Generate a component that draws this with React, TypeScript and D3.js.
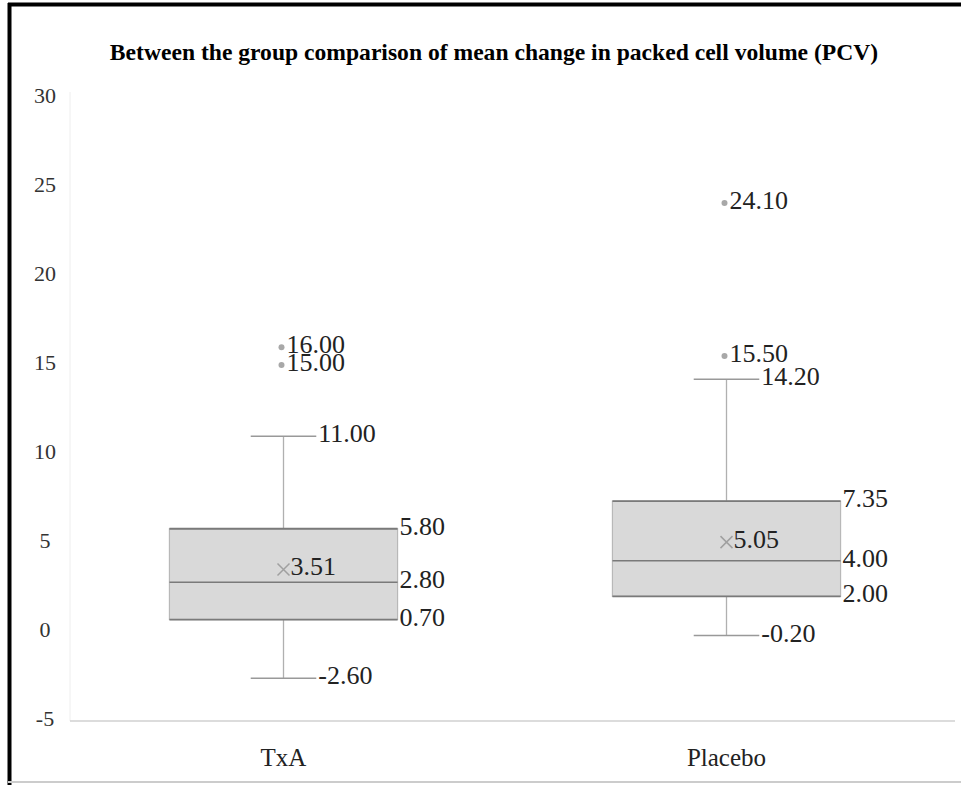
import React from "react";
import * as d3 from "d3";

// Box-plot summary values for each group
const categories = ["TxA", "Placebo"];
const mins = [-2.6, -0.2];
const q1s = [0.7, 2.0];
const medians = [2.8, 4.0];
const q3s = [5.8, 7.35];
const maxs = [11.0, 14.2];
const means = [3.51, 5.05];
const outliers = [
  [16.0, 15.0],
  [24.1, 15.5],
];
const yTicks = [-5, 0, 5, 10, 15, 20, 25, 30];
const title = "Between the group comparison of mean change in packed cell volume (PCV)";

const W = 961;
const H = 785;
const SERIF = "'Liberation Serif', 'Times New Roman', serif";

export default function App() {
  const y = d3.scaleLinear().domain([-5, 30]).range([721, 98]);
  const x = d3.scaleBand().domain(categories).range([62, 948]).padding(0);
  const bw = x.bandwidth();
  const boxW = bw * 0.515;
  const capW = bw * 0.148;

  const label = (tx: number, v: number, key: string) => (
    <text
      key={key}
      x={tx}
      y={y(v)}
      dominantBaseline="middle"
      fontFamily={SERIF}
      fontSize={26}
      fill="#222"
    >
      {v.toFixed(2)}
    </text>
  );

  return (
    <svg
      width={W}
      height={H}
      style={{ position: "absolute", left: 0, top: 0, background: "#fff" }}
    >
      {/* frame */}
      <rect x={0} y={0} width={W} height={H} fill="#fff" />
      <line x1={8} x2={W} y1={4.5} y2={4.5} stroke="#000" strokeWidth={4} />
      <line x1={9.5} x2={9.5} y1={3} y2={H} stroke="#000" strokeWidth={4} />
      <line x1={8} x2={W} y1={782} y2={782} stroke="#ccc" strokeWidth={2} />

      <text
        x={494}
        y={60}
        textAnchor="middle"
        fontFamily={SERIF}
        fontWeight="bold"
        fontSize={23.6}
        fill="#000"
      >
        {title}
      </text>

      {/* plot area edges */}
      <line x1={70} x2={70} y1={92} y2={y(-5)} stroke="#eee" strokeWidth={1} />
      <line x1={70} x2={955} y1={y(-5)} y2={y(-5)} stroke="#d0d0d0" strokeWidth={1.5} />

      {/* y tick labels */}
      {yTicks.map((t) => (
        <text
          key={t}
          x={45}
          y={y(t)}
          textAnchor="middle"
          dominantBaseline="middle"
          fontFamily={SERIF}
          fontSize={22}
          fill="#333"
        >
          {t}
        </text>
      ))}

      {/* category labels */}
      {categories.map((c) => (
        <text
          key={c}
          x={(x(c) as number) + bw / 2}
          y={760}
          textAnchor="middle"
          dominantBaseline="middle"
          fontFamily={SERIF}
          fontSize={25}
          fill="#222"
        >
          {c}
        </text>
      ))}

      {categories.map((c, i) => {
        const cx = (x(c) as number) + bw / 2;
        const left = cx - boxW / 2;
        const right = cx + boxW / 2;
        return (
          <g key={c}>
            {/* whiskers */}
            <line x1={cx} x2={cx} y1={y(maxs[i])} y2={y(q3s[i])} stroke="#b0b0b0" strokeWidth={1.3} />
            <line x1={cx} x2={cx} y1={y(q1s[i])} y2={y(mins[i])} stroke="#b0b0b0" strokeWidth={1.3} />
            <line x1={cx - capW / 2} x2={cx + capW / 2} y1={y(maxs[i])} y2={y(maxs[i])} stroke="#999" strokeWidth={1.5} />
            <line x1={cx - capW / 2} x2={cx + capW / 2} y1={y(mins[i])} y2={y(mins[i])} stroke="#999" strokeWidth={1.5} />

            {/* box */}
            <rect
              x={left}
              y={y(q3s[i])}
              width={boxW}
              height={y(q1s[i]) - y(q3s[i])}
              fill="#d9d9d9"
              stroke="#b8b8b8"
              strokeWidth={1.2}
            />
            <line x1={left} x2={right} y1={y(q3s[i])} y2={y(q3s[i])} stroke="#7a7a7a" strokeWidth={1.8} />
            <line x1={left} x2={right} y1={y(q1s[i])} y2={y(q1s[i])} stroke="#7a7a7a" strokeWidth={1.8} />
            <line x1={left} x2={right} y1={y(medians[i])} y2={y(medians[i])} stroke="#7a7a7a" strokeWidth={1.5} />

            {/* mean marker */}
            <path
              d={`M${cx - 6},${y(means[i]) - 6}L${cx + 6},${y(means[i]) + 6}M${cx - 6},${y(means[i]) + 6}L${cx + 6},${y(means[i]) - 6}`}
              stroke="#a0a0a0"
              strokeWidth={1.5}
              fill="none"
            />

            {/* outliers */}
            {outliers[i].map((v, j) => (
              <circle key={j} cx={cx - 2} cy={y(v)} r={3} fill="#a8a8a8" />
            ))}

            {/* value labels */}
            {label(cx + capW / 2 + 2, maxs[i], "max")}
            {label(cx + capW / 2 + 2, mins[i], "min")}
            {label(right + 2, q3s[i], "q3")}
            {label(right + 2, medians[i], "med")}
            {label(right + 2, q1s[i], "q1")}
            {label(cx + 7, means[i], "mean")}
            {outliers[i].map((v, j) => label(cx + 3, v, "o" + j))}
          </g>
        );
      })}
    </svg>
  );
}
